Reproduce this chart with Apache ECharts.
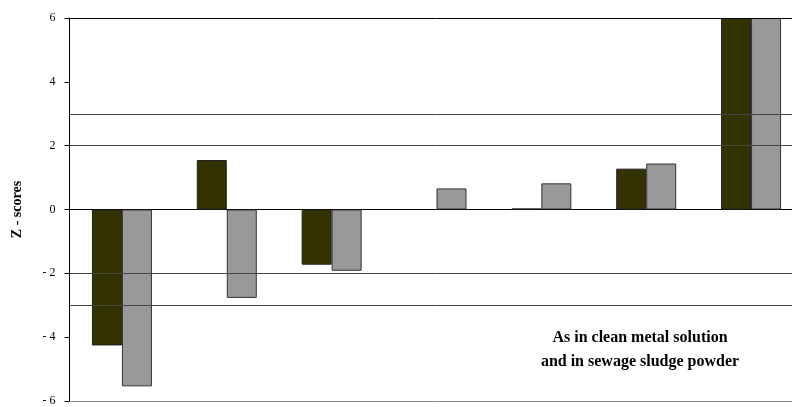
<!DOCTYPE html>
<html>
<head>
<meta charset="utf-8">
<script src="https://cdn.jsdelivr.net/npm/echarts@6/dist/echarts.min.js"></script>
<style>
html,body{margin:0;padding:0;background:#fff;overflow:hidden;}
/* the plot runs a little past the right edge of the picture */
#main{width:805px;height:407px;}
</style>
</head>
<body>
<div id="main"></div>
<script>
// categories (no labels shown in the figure)
var categories = ['1', '2', '3', '4', '5', '6', '7'];
// z-scores (last pair runs past the top of the axis)
var cleanSolution = [-4.26, 1.55, -1.73, null, 0.03, 1.28, 6];
var sludgePowder = [-5.54, -2.77, -1.92, 0.66, 0.82, 1.44, 6];
var yTicks = [-6, -4, -2, 0, 2, 4, 6];
// limit lines drawn across the plot
var limitLines = [3, 2, -2, -3];

var myChart = echarts.init(document.getElementById('main'), null, {renderer: 'canvas'});

var lines = [];
for (var i = 0; i < limitLines.length; i++) {
	lines.push({yAxis: limitLines[i], lineStyle: {color: '#444', width: 1, type: 'solid'}});
}
lines.push({yAxis: yTicks[yTicks.length - 1], lineStyle: {color: '#000', width: 1, type: 'solid'}});
lines.push({yAxis: yTicks[0], lineStyle: {color: '#888', width: 1, type: 'solid'}});

var option = {
	animation: false,
	grid: {left: 69.5, right: 1.5, top: 18, bottom: 4, containLabel: false},
	xAxis: {
		type: 'category',
		data: categories,
		axisLine: {onZero: true, lineStyle: {color: '#000', width: 1}},
		axisTick: {show: false},
		axisLabel: {show: false},
		splitLine: {show: false}
	},
	yAxis: {
		type: 'value',
		min: -6,
		max: 6,
		interval: 2,
		name: 'Z - scores',
		nameLocation: 'middle',
		nameGap: 45,
		nameTextStyle: {fontFamily: 'Liberation Serif', fontWeight: 'bold', fontSize: 14, color: '#000'},
		axisLine: {show: true, lineStyle: {color: '#000', width: 1}},
		axisTick: {show: true, inside: false, length: 5, lineStyle: {color: '#000'}},
		axisLabel: {
			margin: 14,
			fontFamily: 'Liberation Serif',
			fontSize: 12,
			color: '#000',
			formatter: function (v) { return v < 0 ? '- ' + Math.abs(v) : String(v); }
		},
		splitLine: {show: false}
	},
	series: [
		{
			name: 'clean metal solution',
			type: 'bar',
			data: cleanSolution,
			barWidth: 30,
			barGap: '0%',
			itemStyle: {color: '#333300', borderColor: '#222', borderWidth: 1},
			markLine: {
				silent: true,
				symbol: 'none',
				label: {show: false},
				data: lines
			}
		},
		{
			name: 'sewage sludge powder',
			type: 'bar',
			data: sludgePowder,
			barWidth: 30,
			barGap: '0%',
			itemStyle: {color: '#999999', borderColor: '#333', borderWidth: 1}
		}
	],
	graphic: [
		{type: 'text', x: 640, y: 338, style: {text: 'As in clean metal solution', font: 'bold 16px "Liberation Serif"', fill: '#000', align: 'center', verticalAlign: 'middle'}},
		{type: 'text', x: 640, y: 362, style: {text: 'and in sewage sludge powder', font: 'bold 16px "Liberation Serif"', fill: '#000', align: 'center', verticalAlign: 'middle'}}
	]
};

myChart.setOption(option);
</script>
</body>
</html>
